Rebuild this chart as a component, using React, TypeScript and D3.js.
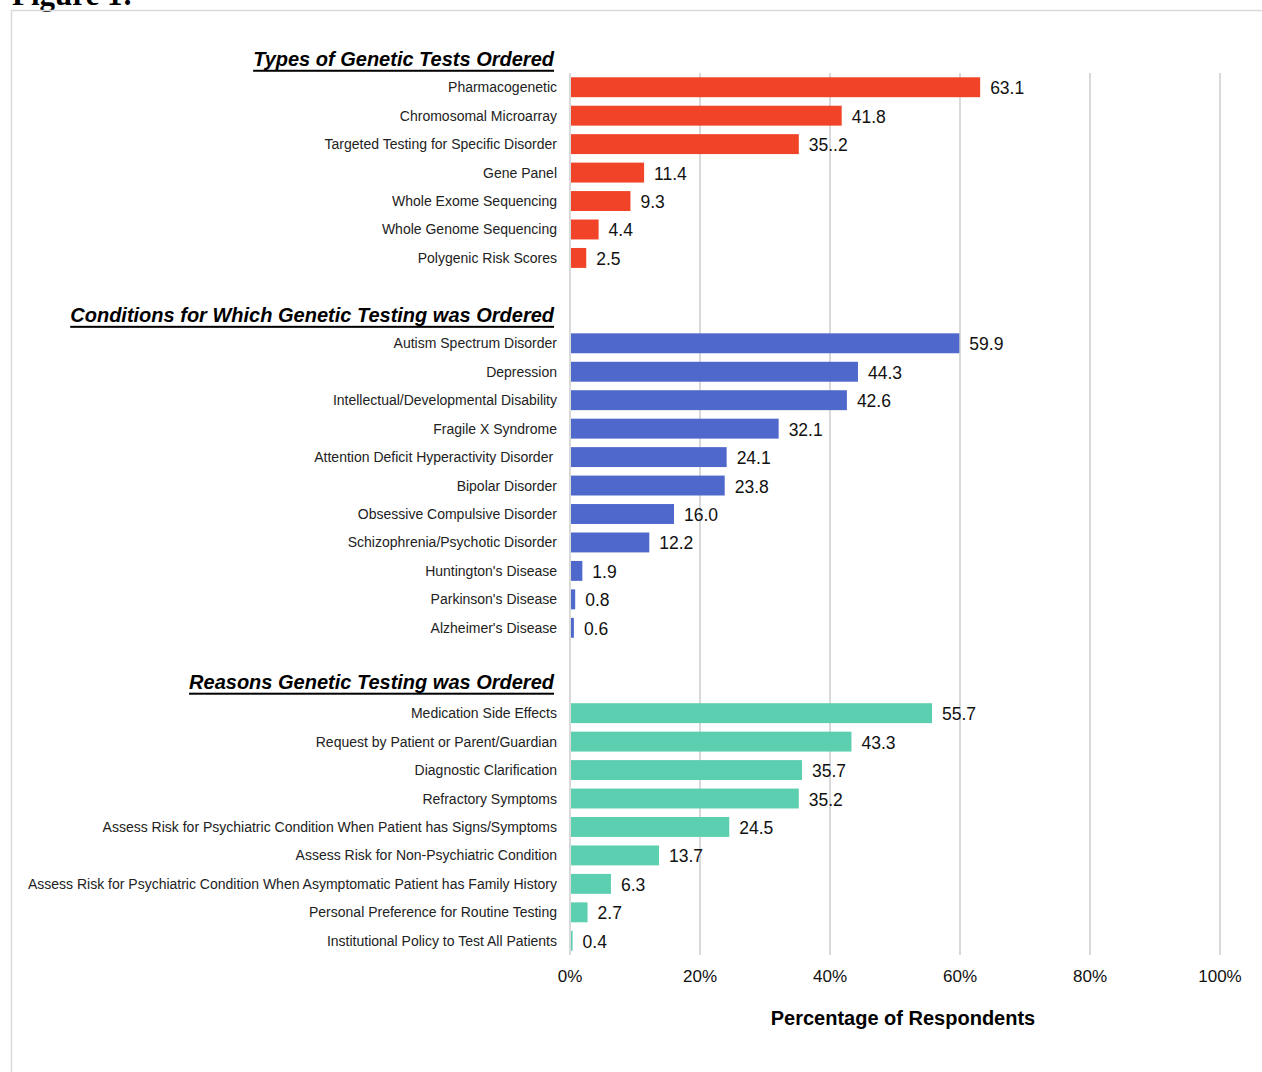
import React from "react";
import * as d3 from "d3";

const testCategories = [
  "Pharmacogenetic",
  "Chromosomal Microarray",
  "Targeted Testing for Specific Disorder",
  "Gene Panel",
  "Whole Exome Sequencing",
  "Whole Genome Sequencing",
  "Polygenic Risk Scores",
];
const testValues = [63.1, 41.8, 35.2, 11.4, 9.3, 4.4, 2.5];
const testLabels = ["63.1", "41.8", "35..2", "11.4", "9.3", "4.4", "2.5"];

const conditionCategories = [
  "Autism Spectrum Disorder",
  "Depression",
  "Intellectual/Developmental Disability",
  "Fragile X Syndrome",
  "Attention Deficit Hyperactivity Disorder ",
  "Bipolar Disorder",
  "Obsessive Compulsive Disorder",
  "Schizophrenia/Psychotic Disorder",
  "Huntington's Disease",
  "Parkinson's Disease",
  "Alzheimer's Disease",
];
const conditionValues = [59.9, 44.3, 42.6, 32.1, 24.1, 23.8, 16.0, 12.2, 1.9, 0.8, 0.6];
const conditionLabels = ["59.9", "44.3", "42.6", "32.1", "24.1", "23.8", "16.0", "12.2", "1.9", "0.8", "0.6"];

const reasonCategories = [
  "Medication Side Effects",
  "Request by Patient or Parent/Guardian",
  "Diagnostic Clarification",
  "Refractory Symptoms",
  "Assess Risk for Psychiatric Condition When Patient has Signs/Symptoms",
  "Assess Risk for Non-Psychiatric Condition",
  "Assess Risk for Psychiatric Condition When Asymptomatic Patient has Family History",
  "Personal Preference for Routine Testing",
  "Institutional Policy to Test All Patients",
];
const reasonValues = [55.7, 43.3, 35.7, 35.2, 24.5, 13.7, 6.3, 2.7, 0.4];
const reasonLabels = ["55.7", "43.3", "35.7", "35.2", "24.5", "13.7", "6.3", "2.7", "0.4"];

const sectionTitles = [
  "Types of Genetic Tests Ordered",
  "Conditions for Which Genetic Testing was Ordered",
  "Reasons Genetic Testing was Ordered",
];
const sectionColors = ["#F04327", "#4F68CB", "#5DCFB1"];
const xTicks = [0, 20, 40, 60, 80, 100];

const FONT = "'Liberation Sans', Arial, sans-serif";

export default function App() {
  const W = 1262;
  const H = 1072;
  const x = d3.scaleLinear().domain([0, 100]).range([570, 1220]);

  const sections = [
    { cats: testCategories, vals: testValues, labs: testLabels },
    { cats: conditionCategories, vals: conditionValues, labs: conditionLabels },
    { cats: reasonCategories, vals: reasonValues, labs: reasonLabels },
  ];

  const slots: string[] = [];
  sections.forEach((s, si) => {
    if (si > 0) {
      slots.push(`gap${si}`);
      slots.push(`hdr${si}`);
    }
    s.cats.forEach((c, ci) => slots.push(`s${si}-${ci}`));
  });

  const y = d3
    .scaleBand<string>()
    .domain(slots)
    .range([73, 955])
    .paddingInner(0.3)
    .paddingOuter(0.15);
  const step = y.step();
  const bw = y.bandwidth();

  const headerY = (si: number) =>
    si === 0
      ? (y(`s0-0`) as number) + bw / 2 - step
      : (y(`hdr${si}`) as number) + bw / 2 - (si === 2 ? 3 : 0);

  return (
    <svg
      width={W}
      height={H}
      style={{ position: "absolute", left: 0, top: 0, background: "#fff" }}
    >
      <rect x={0} y={0} width={W} height={H} fill="#fff" />
      <text
        x={12}
        y={5}
        fontFamily="'Liberation Serif', 'Times New Roman', serif"
        fontWeight="bold"
        fontSize={31}
        fill="#000"
      >
        Figure 1:
      </text>
      <line x1={11} x2={W} y1={10.5} y2={10.5} stroke="#d9d9d9" strokeWidth={1.5} />
      <line x1={11.5} x2={11.5} y1={10} y2={H} stroke="#d9d9d9" strokeWidth={1.5} />

      {xTicks.map((t) => (
        <line
          key={t}
          x1={x(t)}
          x2={x(t)}
          y1={73}
          y2={955}
          stroke="#d9d9d9"
          strokeWidth={2}
        />
      ))}

      {sections.map((s, si) => (
        <g key={si}>
          <text
            x={554}
            y={headerY(si)}
            textAnchor="end"
            dominantBaseline="central"
            fontFamily={FONT}
            fontWeight="bold"
            fontStyle="italic"
            fontSize={20}
            textDecoration="underline"
            fill="#000"
          >
            {sectionTitles[si]}
          </text>
          {s.cats.map((c, ci) => {
            const key = `s${si}-${ci}`;
            const yy = y(key) as number;
            const v = s.vals[ci];
            return (
              <g key={key}>
                <rect
                  x={x(0) + 1}
                  y={yy}
                  width={Math.max(0, x(v) - x(0) - 1)}
                  height={bw}
                  fill={sectionColors[si]}
                />
                <text
                  x={557}
                  y={yy + bw / 2}
                  textAnchor="end"
                  dominantBaseline="central"
                  fontFamily={FONT}
                  fontSize={14}
                  fill="#222"
                  style={{ whiteSpace: "pre" }}
                >
                  {c}
                </text>
                <text
                  x={x(v) + 10}
                  y={yy + bw / 2 + 1}
                  dominantBaseline="central"
                  fontFamily={FONT}
                  fontSize={17.5}
                  fill="#111"
                >
                  {s.labs[ci]}
                </text>
              </g>
            );
          })}
        </g>
      ))}

      {xTicks.map((t) => (
        <text
          key={`l${t}`}
          x={x(t)}
          y={976}
          textAnchor="middle"
          dominantBaseline="central"
          fontFamily={FONT}
          fontSize={17}
          fill="#111"
        >
          {`${t}%`}
        </text>
      ))}
      <text
        x={903}
        y={1018}
        textAnchor="middle"
        dominantBaseline="central"
        fontFamily={FONT}
        fontWeight="bold"
        fontSize={20}
        fill="#000"
      >
        Percentage of Respondents
      </text>
    </svg>
  );
}
